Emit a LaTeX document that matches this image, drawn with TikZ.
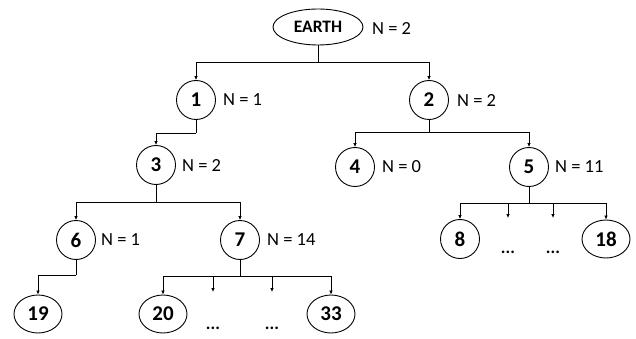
\documentclass[tikz,border=0pt]{standalone}
\usepackage{fontspec}
\setmainfont{Carlito}
\usetikzlibrary{shapes.geometric,arrows.meta}
\begin{document}
\begin{tikzpicture}[x=1pt,y=-1pt,
  nd/.style={draw,circle,line width=0.9pt,minimum size=39pt,inner sep=0pt,font=\fontsize{21}{21}\selectfont\bfseries},
  lf/.style={draw,ellipse,line width=0.9pt,minimum width=48pt,minimum height=38pt,inner sep=0pt,font=\fontsize{21}{21}\selectfont\bfseries},
  lab/.style={anchor=west,inner sep=0pt,font=\fontsize{18.5}{18.5}\selectfont},
  dotsn/.style={anchor=base,inner sep=0pt,font=\fontsize{17.5}{17.5}\selectfont\bfseries},
  conn/.style={line width=0.9pt},
  arr/.style={conn,-{Latex[length=4pt,width=3.6pt]}}
]
\useasboundingbox (0,0) rectangle (636,339);
% nodes
\node[draw,ellipse,line width=0.9pt,minimum width=90pt,minimum height=36pt,inner sep=0pt,font=\fontsize{17.5}{17.5}\selectfont\bfseries] (earth) at (318,27) {EARTH};
\node[nd] (n1) at (196,100) {1};
\node[nd] (n2) at (429,100) {2};
\node[nd] (n3) at (156,165) {3};
\node[nd] (n4) at (355,167) {4};
\node[nd] (n5) at (529,167) {5};
\node[nd] (n6) at (76,240) {6};
\node[nd] (n7) at (240,240) {7};
\node[nd] (n8) at (460,239) {8};
\node[lf] (n18) at (606,239) {18};
\node[lf] (n19) at (38,314) {19};
\node[lf] (n20) at (163,314) {20};
\node[lf] (n33) at (331,314) {33};
% labels
\node[lab] (l0) at (372,29) {N = 2};
\node[lab] (l1) at (223,100) {N = 1};
\node[lab] (l2) at (457,100) {N = 2};
\node[lab] (l3) at (182,165) {N = 2};
\node[lab] (l4) at (382,167) {N = 0};
\node[lab] (l5) at (555,167) {N = 11};
\node[lab] (l6) at (101,240) {N = 1};
\node[lab] (l7) at (267,240) {N = 14};
% dots
\node[dotsn] (e51) at (508,253) {...};
\node[dotsn] (e52) at (553,253) {...};
\node[dotsn] (e71) at (213,329) {...};
\node[dotsn] (e72) at (272,329) {...};
% branch points
\coordinate (b0) at (318,62);
\coordinate (b1) at (196,133);
\coordinate (b2) at (429,132);
\coordinate (b3) at (156,202);
\coordinate (b5) at (529,203);
\coordinate (b6) at (76,275);
\coordinate (b7) at (240,276);
\coordinate (d51) at (508,218);
\coordinate (d52) at (553,218);
\coordinate (d71) at (213,292);
\coordinate (d72) at (272,292);
% connectors
\draw[conn] (earth.south) -- (b0);
\draw[arr] (b0) -| (n1.north);
\draw[arr] (b0) -| (n2.north);
\draw[conn] (n1.south) -- (b1);
\draw[arr] (b1) -| (n3.north);
\draw[conn] (n2.south) -- (b2);
\draw[arr] (b2) -| (n4.north);
\draw[arr] (b2) -| (n5.north);
\draw[conn] (n3.south) -- (b3);
\draw[arr] (b3) -| (n6.north);
\draw[arr] (b3) -| (n7.north);
\draw[conn] (n5.south) -- (b5);
\draw[arr] (b5) -| (n8.north);
\draw[arr] (b5) -| (d51);
\draw[arr] (b5) -| (d52);
\draw[arr] (b5) -| (n18.north);
\draw[conn] (n6.south) -- (b6);
\draw[arr] (b6) -| (n19.north);
\draw[conn] (n7.south) -- (b7);
\draw[arr] (b7) -| (n20.north);
\draw[arr] (b7) -| (d71);
\draw[arr] (b7) -| (d72);
\draw[arr] (b7) -| (n33.north);
\end{tikzpicture}
\end{document}
